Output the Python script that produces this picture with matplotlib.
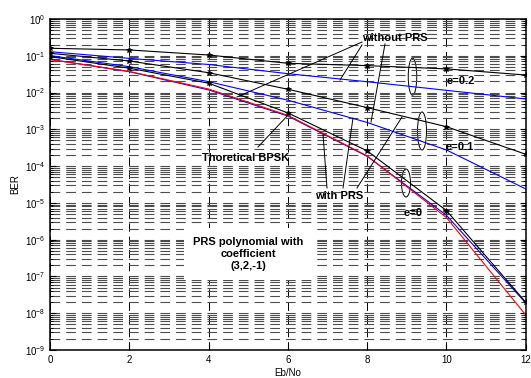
import numpy as np
import matplotlib
matplotlib.use('Agg')
import matplotlib.pyplot as plt
from matplotlib.patches import Ellipse
from matplotlib.ticker import FixedLocator, NullFormatter, LogFormatterSciNotation

plt.rcParams['font.family'] = ['Liberation Sans', 'DejaVu Sans']
plt.rcParams['mathtext.fontset'] = 'custom'
plt.rcParams['mathtext.rm'] = 'Liberation Sans'
plt.rcParams['mathtext.it'] = 'Liberation Sans:italic'
plt.rcParams['mathtext.bf'] = 'Liberation Sans:bold'
plt.rcParams['lines.scale_dashes'] = False

# Eb/No points (dB)
ebno = [0, 2, 4, 6, 8, 10, 12]

# theoretical BPSK (red)
ber_theory = [7.9e-2, 3.75e-2, 1.25e-2, 2.4e-3, 1.9e-4, 4.0e-6, 9.0e-9]

# without PRS (blue), e = 0, 0.1, 0.2
ber_nopr_e0 = [8.0e-2, 3.7e-2, 1.18e-2, 2.3e-3, 1.85e-4, 4.6e-6, 1.9e-8]
ber_nopr_e01 = [1.01e-1, 5.06e-2, 1.98e-2, 6.2e-3, 1.54e-3, 2.75e-4, 2.4e-5]
ber_nopr_e02 = [1.29e-1, 8.5e-2, 5.8e-2, 3.26e-2, 1.97e-2, 1.15e-2, 6.7e-3]

# with PRS (black, markers), e = 0, 0.1, 0.2
ber_prs_e0 = [9.5e-2, 4.6e-2, 1.8e-2, 2.8e-3, 2.6e-4, 6.2e-6, 2.0e-8]
ber_prs_e01 = [1.17e-1, 7.2e-2, 3.47e-2, 1.23e-2, 3.9e-3, 1.18e-3, 2.1e-4]
ber_prs_e02 = [1.6e-1, 1.44e-1, 1.05e-1, 6.25e-2, 5.4e-2, 4.4e-2, 3.0e-2]

# y ticks: decades 1e-9 .. 1e0
decades = list(range(-9, 1))

fig = plt.figure(figsize=(5.31, 3.78), dpi=100)
ax = fig.add_axes([50/531, 1-350/378, 475.7/531, 331/378])

W, H = 475.7, 331.0
def px(x, y):
    # pixel position in the picture -> axes fraction
    return ((x - 50) / W, (350 - y) / H)

ax.set_yscale('log')
ax.set_xlim(0, 12)
ax.set_ylim(1e-9, 1)

ax.plot(ebno, ber_nopr_e02, color='b', lw=0.8)
ax.plot(ebno, ber_nopr_e01, color='b', lw=0.8)
ax.plot(ebno, ber_nopr_e0, color='b', lw=0.8)
ax.plot(ebno, ber_theory, color='r', lw=0.8)
for b in (ber_prs_e02, ber_prs_e01, ber_prs_e0):
    ax.plot(ebno, b, color='k', lw=0.8, marker='*', ms=4, mew=0.6)

major_y = [10.0 ** d for d in decades]
minor_y = [m * 10.0 ** d for d in decades[:-1] for m in range(2, 10)]
ax.xaxis.set_major_locator(FixedLocator(ebno))
ax.yaxis.set_major_locator(FixedLocator(major_y))
ax.yaxis.set_major_formatter(LogFormatterSciNotation())
ax.yaxis.set_minor_locator(FixedLocator(minor_y))
ax.yaxis.set_minor_formatter(NullFormatter())

ax.grid(which='both', axis='y', color='0.3', lw=0.8, ls=(0, (7, 4.3)))
ax.grid(which='major', axis='x', color='k', lw=0.7, ls=(0, (6, 3.5)))
ax.tick_params(which='both', direction='in', top=True, right=True, labelsize=7)
ax.tick_params(which='major', length=4)
ax.tick_params(which='minor', length=2)
for s in ax.spines.values():
    s.set_linewidth(1.1)

ax.set_xlabel('Eb/No', fontsize=7, labelpad=2)
ax.set_ylabel('BER', fontsize=7, labelpad=3)

# annotations
tkw = dict(transform=ax.transAxes, fontsize=8, fontweight='bold', ha='center', va='center')
ax.text(*px(395, 38), 'without PRS', **tkw)
ax.text(*px(461, 81), 'e=0.2', **tkw)
ax.text(*px(460, 147), 'e=0.1', **tkw)
ax.text(*px(413, 213), 'e=0', **tkw)
ax.text(*px(246, 158), 'Thoretical BPSK', **tkw)
ax.text(*px(339, 196), 'with PRS', **tkw)
ax.text(*px(248, 254), 'PRS polynomial with\ncoefficient\n(3,2,-1)', linespacing=1.3,
        bbox=dict(facecolor='white', edgecolor='none', pad=6), **tkw)

lines = [
    ((258, 147), (290, 113)),
    ((362, 42), (237, 97)),
    ((362, 45), (340, 80)),
    ((385, 44), (371, 122)),
    ((327, 188), (323, 134)),
    ((343, 188), (353, 118)),
    ((357, 188), (402, 117)),
]
for (x0, y0), (x1, y1) in lines:
    a, b = px(x0, y0), px(x1, y1)
    ax.plot([a[0], b[0]], [a[1], b[1]], color='k', lw=0.7, transform=ax.transAxes)

for cx, cy, w, h in [(412.5, 76.7, 8.5, 37), (422, 131, 9, 38), (406, 183, 9, 28)]:
    ax.add_patch(Ellipse(px(cx, cy), w / W, h / H, transform=ax.transAxes,
                         fill=False, ec='k', lw=0.7))

fig.savefig('out.png', dpi=100)
